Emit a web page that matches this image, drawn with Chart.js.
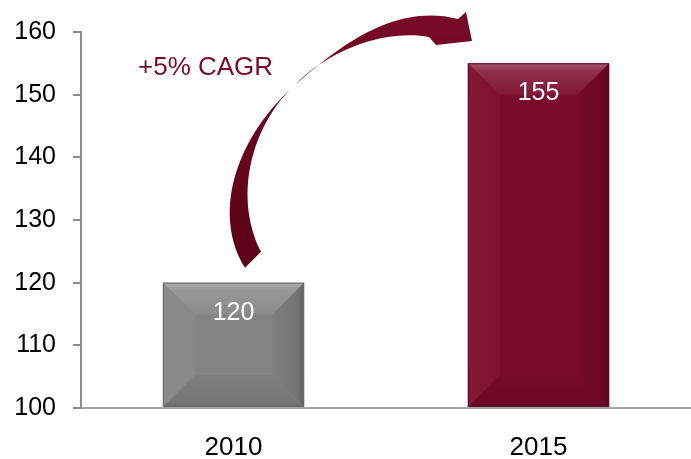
<!DOCTYPE html>
<html>
<head>
<meta charset="utf-8">
<script src="https://cdn.jsdelivr.net/npm/chart.js@4/dist/chart.umd.min.js"></script>
<style>
  html, body { margin: 0; padding: 0; background: #ffffff; }
  #wrap { width: 691px; height: 459px; }
</style>
</head>
<body>
<div id="wrap"><canvas id="c" width="691" height="459"></canvas></div>
<script>
// ---- data ----
const categories = ['2010', '2015'];
const values = [120, 155];
const yMin = 100;
const yMax = 160;
const yStep = 10;
const barFaces = ['#848484', '#7a0a29'];
const growthLabel = '+5% CAGR';

const FONT = "'Liberation Sans', Arial, sans-serif";

function shade(hex, amt) {
  const n = parseInt(hex.slice(1), 16);
  let r = (n >> 16) & 255, g = (n >> 8) & 255, b = n & 255;
  if (amt >= 0) { r += (255 - r) * amt; g += (255 - g) * amt; b += (255 - b) * amt; }
  else { r *= (1 + amt); g *= (1 + amt); b *= (1 + amt); }
  return 'rgb(' + Math.round(r) + ',' + Math.round(g) + ',' + Math.round(b) + ')';
}

const bevelPlugin = {
  id: 'bevel',
  afterDatasetsDraw(chart) {
    const ctx = chart.ctx;
    const meta = chart.getDatasetMeta(0);
    meta.data.forEach((el, i) => {
      const p = el.getProps(['x', 'y', 'base', 'width'], true);
      const l = p.x - p.width / 2, r = p.x + p.width / 2, t = p.y;
      const bt = Math.min(p.base, chart.chartArea.bottom);
      const b = Math.min(32, p.width / 2, (bt - t) / 2);
      const face = barFaces[i];
      ctx.save();
      // top
      let g = ctx.createLinearGradient(0, t, 0, t + b);
      g.addColorStop(0, shade(face, 0.32));
      g.addColorStop(0.25, shade(face, 0.16));
      g.addColorStop(1, shade(face, 0.05));
      ctx.fillStyle = g;
      ctx.beginPath(); ctx.moveTo(l, t); ctx.lineTo(r, t); ctx.lineTo(r - b, t + b); ctx.lineTo(l + b, t + b); ctx.closePath(); ctx.fill();
      // bottom
      g = ctx.createLinearGradient(0, bt - b, 0, bt);
      g.addColorStop(0, shade(face, -0.04));
      g.addColorStop(0.85, shade(face, -0.1));
      g.addColorStop(1, shade(face, -0.25));
      ctx.fillStyle = g;
      ctx.beginPath(); ctx.moveTo(l, bt); ctx.lineTo(r, bt); ctx.lineTo(r - b, bt - b); ctx.lineTo(l + b, bt - b); ctx.closePath(); ctx.fill();
      // left
      g = ctx.createLinearGradient(l, 0, l + b, 0);
      g.addColorStop(0, shade(face, 0.06));
      g.addColorStop(1, shade(face, 0.03));
      ctx.fillStyle = g;
      ctx.beginPath(); ctx.moveTo(l, t); ctx.lineTo(l + b, t + b); ctx.lineTo(l + b, bt - b); ctx.lineTo(l, bt); ctx.closePath(); ctx.fill();
      // right
      g = ctx.createLinearGradient(r - b, 0, r, 0);
      g.addColorStop(0, shade(face, -0.03));
      g.addColorStop(0.8, shade(face, -0.12));
      g.addColorStop(1, shade(face, -0.28));
      ctx.fillStyle = g;
      ctx.beginPath(); ctx.moveTo(r, t); ctx.lineTo(r - b, t + b); ctx.lineTo(r - b, bt - b); ctx.lineTo(r, bt); ctx.closePath(); ctx.fill();
      // outline
      ctx.strokeStyle = shade(face, -0.2);
      ctx.lineWidth = 1;
      ctx.strokeRect(l + 0.5, t + 0.5, p.width - 1, bt - t - 1);
      // value label
      ctx.fillStyle = '#ffffff';
      ctx.font = '25px ' + FONT;
      ctx.textAlign = 'center';
      ctx.textBaseline = 'middle';
      ctx.fillText(String(values[i]), p.x, t + 30);
      ctx.restore();
    });
  },
  afterDraw(chart) {
    const ctx = chart.ctx;
    const xs = chart.scales.x, ys = chart.scales.y;
    // map reference-frame coordinates onto the live scales
    const X = (px) => xs.getPixelForValue((px - 232.5) / 305);
    const Y = (py) => ys.getPixelForValue(yMin + (408 - py) / 6.3);
    ctx.save();
    const g = ctx.createLinearGradient(0, Y(267), 0, Y(10));
    g.addColorStop(0, '#5a0019');
    g.addColorStop(0.6, '#6a0622');
    g.addColorStop(1, '#780a28');
    ctx.fillStyle = g;
    ctx.beginPath();
    ctx.moveTo(X(244), Y(267));
    ctx.bezierCurveTo(X(212), Y(215), X(232), Y(140), X(292), Y(85));
    ctx.bezierCurveTo(X(322), Y(60), X(385), Y(-2), X(457), Y(17));
    ctx.lineTo(X(465), Y(10));
    ctx.lineTo(X(471), Y(39));
    ctx.lineTo(X(435), Y(43));
    ctx.lineTo(X(428), Y(35));
    ctx.bezierCurveTo(X(395), Y(28), X(335), Y(40), X(292), Y(85));
    ctx.bezierCurveTo(X(255), Y(120), X(230), Y(190), X(260), Y(251));
    ctx.closePath();
    ctx.fill();
    // growth label
    ctx.fillStyle = '#7a0a2a';
    ctx.font = '26px ' + FONT;
    ctx.textAlign = 'left';
    ctx.textBaseline = 'middle';
    ctx.fillText(growthLabel, X(137), Y(66));
    ctx.restore();
  }
};

new Chart(document.getElementById('c'), {
  type: 'bar',
  data: {
    labels: categories,
    datasets: [{
      data: values,
      backgroundColor: barFaces,
      borderWidth: 0,
      base: yMin,
      categoryPercentage: 1,
      barPercentage: 0.463
    }]
  },
  options: {
    responsive: false,
    animation: false,
    devicePixelRatio: 1,
    layout: { padding: { top: 30, right: 0, left: 0, bottom: 0 } },
    plugins: { legend: { display: false }, tooltip: { enabled: false } },
    scales: {
      x: {
        grid: { display: false, drawTicks: false },
        border: { display: true, color: '#a6a6a6', width: 2 },
        ticks: { color: '#000000', font: { family: FONT, size: 26 }, padding: 24 },
        afterFit(s) { s.height = 51; }
      },
      y: {
        min: yMin,
        max: yMax,
        grid: { display: true, drawOnChartArea: false, drawTicks: true, tickLength: 8, color: '#8c8c8c', lineWidth: 2 },
        border: { display: true, color: '#8c8c8c', width: 2 },
        ticks: { stepSize: yStep, color: '#000000', font: { family: FONT, size: 25 }, padding: 17 },
        afterFit(s) { s.width = 81; }
      }
    }
  },
  plugins: [bevelPlugin]
});
</script>
</body>
</html>
